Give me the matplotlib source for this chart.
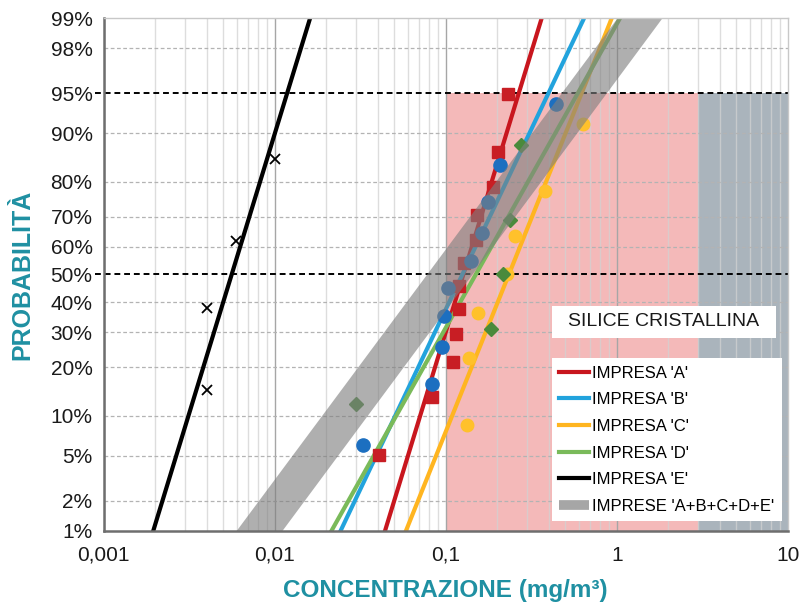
import numpy as np
import matplotlib
matplotlib.use("Agg")
import matplotlib.pyplot as plt
from matplotlib.lines import Line2D
from matplotlib.patches import Rectangle
from statistics import NormalDist

# ---------------- data ----------------
prob_A = [5.1, 13.3, 21.4, 29.6, 37.8, 45.9, 54.1, 62.2, 70.4, 78.6, 86.7, 94.9]
conc_A = [0.041, 0.083, 0.110, 0.115, 0.120, 0.120, 0.128, 0.150, 0.152, 0.188, 0.201, 0.232]
prob_B = [6.1, 15.9, 25.6, 35.4, 45.1, 54.9, 64.6, 74.4, 84.1, 93.9]
conc_B = [0.033, 0.083, 0.0955, 0.098, 0.1035, 0.141, 0.162, 0.177, 0.208, 0.441]
prob_C = [8.6, 22.4, 36.2, 50.0, 63.8, 77.6, 91.4]
conc_C = [0.134, 0.1375, 0.155, 0.229, 0.254, 0.381, 0.632]
prob_D = [11.9, 31.0, 50.0, 69.0, 88.1]
conc_D = [0.030, 0.183, 0.217, 0.238, 0.275]
prob_E = [14.7, 38.2, 61.8, 85.3]
conc_E = [0.0040, 0.0040, 0.0059, 0.0100]

# fitted lines: concentration at 1% and 99%
fit_prob = [1, 99]
fit_A = [0.0442, 0.364]
fit_B = [0.0243, 0.644]
fit_C = [0.0586, 0.935]
fit_D = [0.0215, 1.045]
fit_E = [0.00195, 0.0161]
band_low = [0.00594, 1.0]
band_high = [0.0110, 1.83]

limit_probs = [50, 95]
zone_red = [0.1, 3]
zone_grey = [3, 10]
zone_top = 95

y_ticks = [1, 2, 5, 10, 20, 30, 40, 50, 60, 70, 80, 90, 95, 98, 99]
x_ticks = [0.001, 0.01, 0.1, 1, 10]
x_labels = ["0,001", "0,01", "0,1", "1", "10"]
labels = ["IMPRESA 'A'", "IMPRESA 'B'", "IMPRESA 'C'", "IMPRESA 'D'",
          "IMPRESA 'E'", "IMPRESE 'A+B+C+D+E'"]

# ---------------- probability scale ----------------
_nd = NormalDist()
_inv_cdf = np.vectorize(_nd.inv_cdf, otypes=[float])
_cdf = np.vectorize(_nd.cdf, otypes=[float])


def fwd(p):
    p = np.asarray(p, dtype=float)
    q = np.clip(p / 100.0, 1e-9, 1 - 1e-9)
    bad = ~np.isfinite(q)
    q = np.where(bad, 0.5, q)
    out = _inv_cdf(q) if q.size else q
    return np.where(bad, np.nan, out)


def inv(z):
    z = np.asarray(z, dtype=float)
    bad = ~np.isfinite(z)
    zz = np.where(bad, 0.0, z)
    out = _cdf(zz) * 100.0 if zz.size else zz
    return np.where(bad, np.nan, out)


plt.rcParams['font.family'] = ['Liberation Sans', 'DejaVu Sans']

fig = plt.figure(figsize=(8.01, 6.04), dpi=100)
ax = fig.add_axes([0.12946, 0.12136, 0.85393, 0.84834])
ax.set_xscale('log')
ax.set_yscale('function', functions=(fwd, inv))
ax.set_xlim(0.001, 10)
ax.set_ylim(1, 99)

# zones
ax.fill_between(zone_red, 1, zone_top, color='#f4b9b9', lw=0, zorder=0.5)
ax.fill_between(zone_grey, 1, zone_top, color='#aab4bc', lw=0, zorder=0.5)

# vertical grid
for dec in [0.001, 0.01, 0.1, 1]:
    for k in range(1, 10):
        v = dec * k
        if k == 1:
            ax.axvline(v, color='#a6a6a6', lw=1.0, zorder=1)
        else:
            ax.axvline(v, color='#d2d2d2', lw=1.0, alpha=0.75, zorder=1)
# horizontal grid
for p in y_ticks:
    if p in limit_probs or p in (1, 99):
        continue
    ax.axhline(p, color='#b3b3b3', lw=0.9, ls=(0, (3, 2)), zorder=1)
for p in limit_probs:
    ax.axhline(p, xmin=-0.012, xmax=1, color='black', lw=1.4,
               ls=(0, (3, 2)), zorder=2, clip_on=False)

# fitted lines
ax.plot(fit_A, fit_prob, color='#c8161e', lw=3, zorder=3)
ax.plot(fit_B, fit_prob, color='#22a3dd', lw=3, zorder=3)
ax.plot(fit_C, fit_prob, color='#ffb520', lw=3, zorder=3)
ax.plot(fit_D, fit_prob, color='#7aba5a', lw=3, zorder=3)
ax.plot(fit_E, fit_prob, color='black', lw=3, zorder=3)

# points
ax.plot(conc_A, prob_A, ls='none', marker='s', ms=8.5, color='#c81e24', zorder=4)
ax.plot(conc_B, prob_B, ls='none', marker='o', ms=9.5, color='#1c6fc0', zorder=4)
ax.plot(conc_C, prob_C, ls='none', marker='o', ms=9, color='#ffc12b', zorder=4)
ax.plot(conc_D, prob_D, ls='none', marker='D', ms=7, color='#4a8a3c', zorder=4)
ax.plot(conc_E, prob_E, ls='none', marker='x', ms=7, mew=1.3, color='black', zorder=4)

# combined band
ax.fill_betweenx(fit_prob, band_low, band_high, color='#7f7f7f', alpha=0.62,
                 lw=0, zorder=5)

# axes styling
ax.set_xticks(x_ticks)
ax.set_xticklabels(x_labels)
ax.xaxis.set_minor_locator(matplotlib.ticker.NullLocator())
ax.set_yticks(y_ticks)
ax.set_yticklabels([f"{p}%" for p in y_ticks])
ax.yaxis.set_minor_locator(matplotlib.ticker.NullLocator())
ax.tick_params(axis='both', length=0, labelsize=15, colors='#1a1a1a')
ax.tick_params(axis='y', pad=8)
ax.tick_params(axis='x', pad=11)
for s in ['left', 'bottom']:
    ax.spines[s].set_color('#6e6e6e')
    ax.spines[s].set_linewidth(1.8)
for s in ['top', 'right']:
    ax.spines[s].set_color('#c8c8c8')
    ax.spines[s].set_linewidth(1.0)
for s in ax.spines.values():
    s.set_zorder(6)

teal = '#1f90a2'
ax.set_xlabel("CONCENTRAZIONE (mg/m³)", fontsize=17.5, fontweight='bold',
              color=teal, labelpad=10)
ax.set_ylabel("PROBABILITÀ", fontsize=18, fontweight='bold', color=teal,
              labelpad=12)

# title box
ax.add_patch(Rectangle((0.6554, 0.376), 0.3275, 0.0625, transform=ax.transAxes,
                       facecolor='white', edgecolor='none', zorder=7))
ax.text(0.8191, 0.4073, "SILICE CRISTALLINA", transform=ax.transAxes,
        ha='center', va='center', fontsize=14, color='#1a1a1a', zorder=8)

# legend
handles = [
    Line2D([], [], color='#c8161e', lw=3),
    Line2D([], [], color='#22a3dd', lw=3),
    Line2D([], [], color='#ffb520', lw=3),
    Line2D([], [], color='#7aba5a', lw=3),
    Line2D([], [], color='black', lw=3),
    Line2D([], [], color='#a6a6a6', lw=7, solid_capstyle='butt'),
]
leg = ax.legend(handles, labels, loc='upper left', bbox_to_anchor=(0.6554, 0.337),
                borderaxespad=0, frameon=True, fancybox=False, fontsize=12,
                handlelength=1.8, handletextpad=0.15, labelspacing=0.7,
                borderpad=0.45)
leg.get_frame().set_facecolor('white')
leg.get_frame().set_edgecolor('none')
leg.get_frame().set_alpha(1)
leg.set_zorder(9)

fig.savefig("out.png", dpi=100)
